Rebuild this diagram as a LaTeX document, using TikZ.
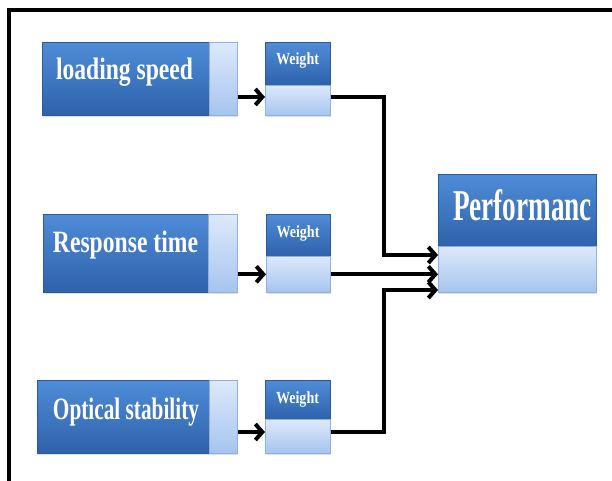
\documentclass[tikz,border=0pt]{standalone}
\usepackage{fontspec}
\setmainfont{Liberation Serif}
\usetikzlibrary{arrows.meta,shadows}
\definecolor{darkTop}{HTML}{4F8CD8}
\definecolor{darkBot}{HTML}{2E62AA}
\definecolor{darkEdge}{HTML}{2A5A9C}
\definecolor{lightTop}{HTML}{DDE9FB}
\definecolor{lightBot}{HTML}{A6C4EE}
\definecolor{lightEdge}{HTML}{8EB0E2}
\tikzset{
  darkpart/.style={rectangle, inner sep=0pt, anchor=north west,
    top color=darkTop, bottom color=darkBot, draw=darkEdge, line width=0.6pt,
    drop shadow={opacity=0.25, shadow xshift=1pt, shadow yshift=-2pt}},
  lightpart/.style={rectangle, inner sep=0pt, anchor=north west,
    top color=lightTop, bottom color=lightBot, draw=lightEdge, line width=0.6pt,
    drop shadow={opacity=0.25, shadow xshift=1pt, shadow yshift=-2pt}},
  lbl/.style={text=white, inner sep=0pt, anchor=base},
  conn/.style={line width=4pt, draw=black, line join=miter},
  arr/.style={conn, -{Straight Barb[length=7pt, width=16pt, line width=4pt]}},
}
\newcommand{\boxtext}[3]{\resizebox{#2pt}{\height}{\fontsize{#1}{#1}\selectfont\bfseries #3}}
\begin{document}
\begin{tikzpicture}[x=1pt, y=-1pt]
  \useasboundingbox (0,0) rectangle (612,480);

  % outer frame, cut by the page on the right and at the bottom
  \draw[line width=4pt] (9,482) -- (9,10) -- (614,10);

  % row 1
  \node[darkpart, minimum width=167pt, minimum height=73pt] (d1) at (42,42) {};
  \node[lightpart, minimum width=28pt, minimum height=73pt] (l1) at (209,42) {};
  \node[darkpart, minimum width=65pt, minimum height=43pt] (wd1) at (265,42) {};
  \node[lightpart, minimum width=65pt, minimum height=30pt] (wl1) at (265,85) {};
  \node[lbl] (t1) at (124.5,79) {\boxtext{31}{137}{loading speed}};
  \node[lbl] (wt1) at (297.5,64) {\boxtext{17}{43}{Weight}};

  % row 2
  \node[darkpart, minimum width=165pt, minimum height=78pt] (d2) at (43,214) {};
  \node[lightpart, minimum width=29pt, minimum height=78pt] (l2) at (208,214) {};
  \node[darkpart, minimum width=64pt, minimum height=42pt] (wd2) at (266,214) {};
  \node[lightpart, minimum width=64pt, minimum height=36pt] (wl2) at (266,256) {};
  \node[lbl] (t2) at (125.5,252) {\boxtext{31}{145}{Response time}};
  \node[lbl] (wt2) at (298,237) {\boxtext{17}{43}{Weight}};

  % row 3
  \node[darkpart, minimum width=172pt, minimum height=73pt] (d3) at (37,380) {};
  \node[lightpart, minimum width=28pt, minimum height=73pt] (l3) at (209,380) {};
  \node[darkpart, minimum width=65pt, minimum height=39pt] (wd3) at (265,380) {};
  \node[lightpart, minimum width=65pt, minimum height=34pt] (wl3) at (265,419) {};
  \node[lbl] (t3) at (126,419) {\boxtext{31}{146}{Optical stability}};
  \node[lbl] (wt3) at (297.5,403) {\boxtext{17}{43}{Weight}};

  % result box
  \node[darkpart, minimum width=158pt, minimum height=72pt] (pd) at (438,174) {};
  \node[lightpart, minimum width=158pt, minimum height=46pt] (pl) at (438,246) {};
  \node[lbl] (pt) at (522.5,220) {\boxtext{44}{139}{Performanc}};

  % junction column and entry points on the result box
  \coordinate (jx) at (384,0);
  \coordinate (in1) at (438,255);
  \coordinate (in3) at (438,290);

  % connectors
  \draw[arr] (l1.east |- 0,97) -- (wl1.west |- 0,97);
  \draw[arr] (l2.east |- wl2.west) -- (wl2.west);
  \draw[arr] (l3.east |- 0,432) -- (wl3.west |- 0,432);

  \draw[arr] (wl1.east |- 0,97) -| (jx |- in1) -- (in1);
  \draw[arr] (wl2.east) -- (pl.west |- wl2.east);
  \draw[arr] (wl3.east |- 0,432) -| (jx |- in3) -- (in3);
\end{tikzpicture}
\end{document}
